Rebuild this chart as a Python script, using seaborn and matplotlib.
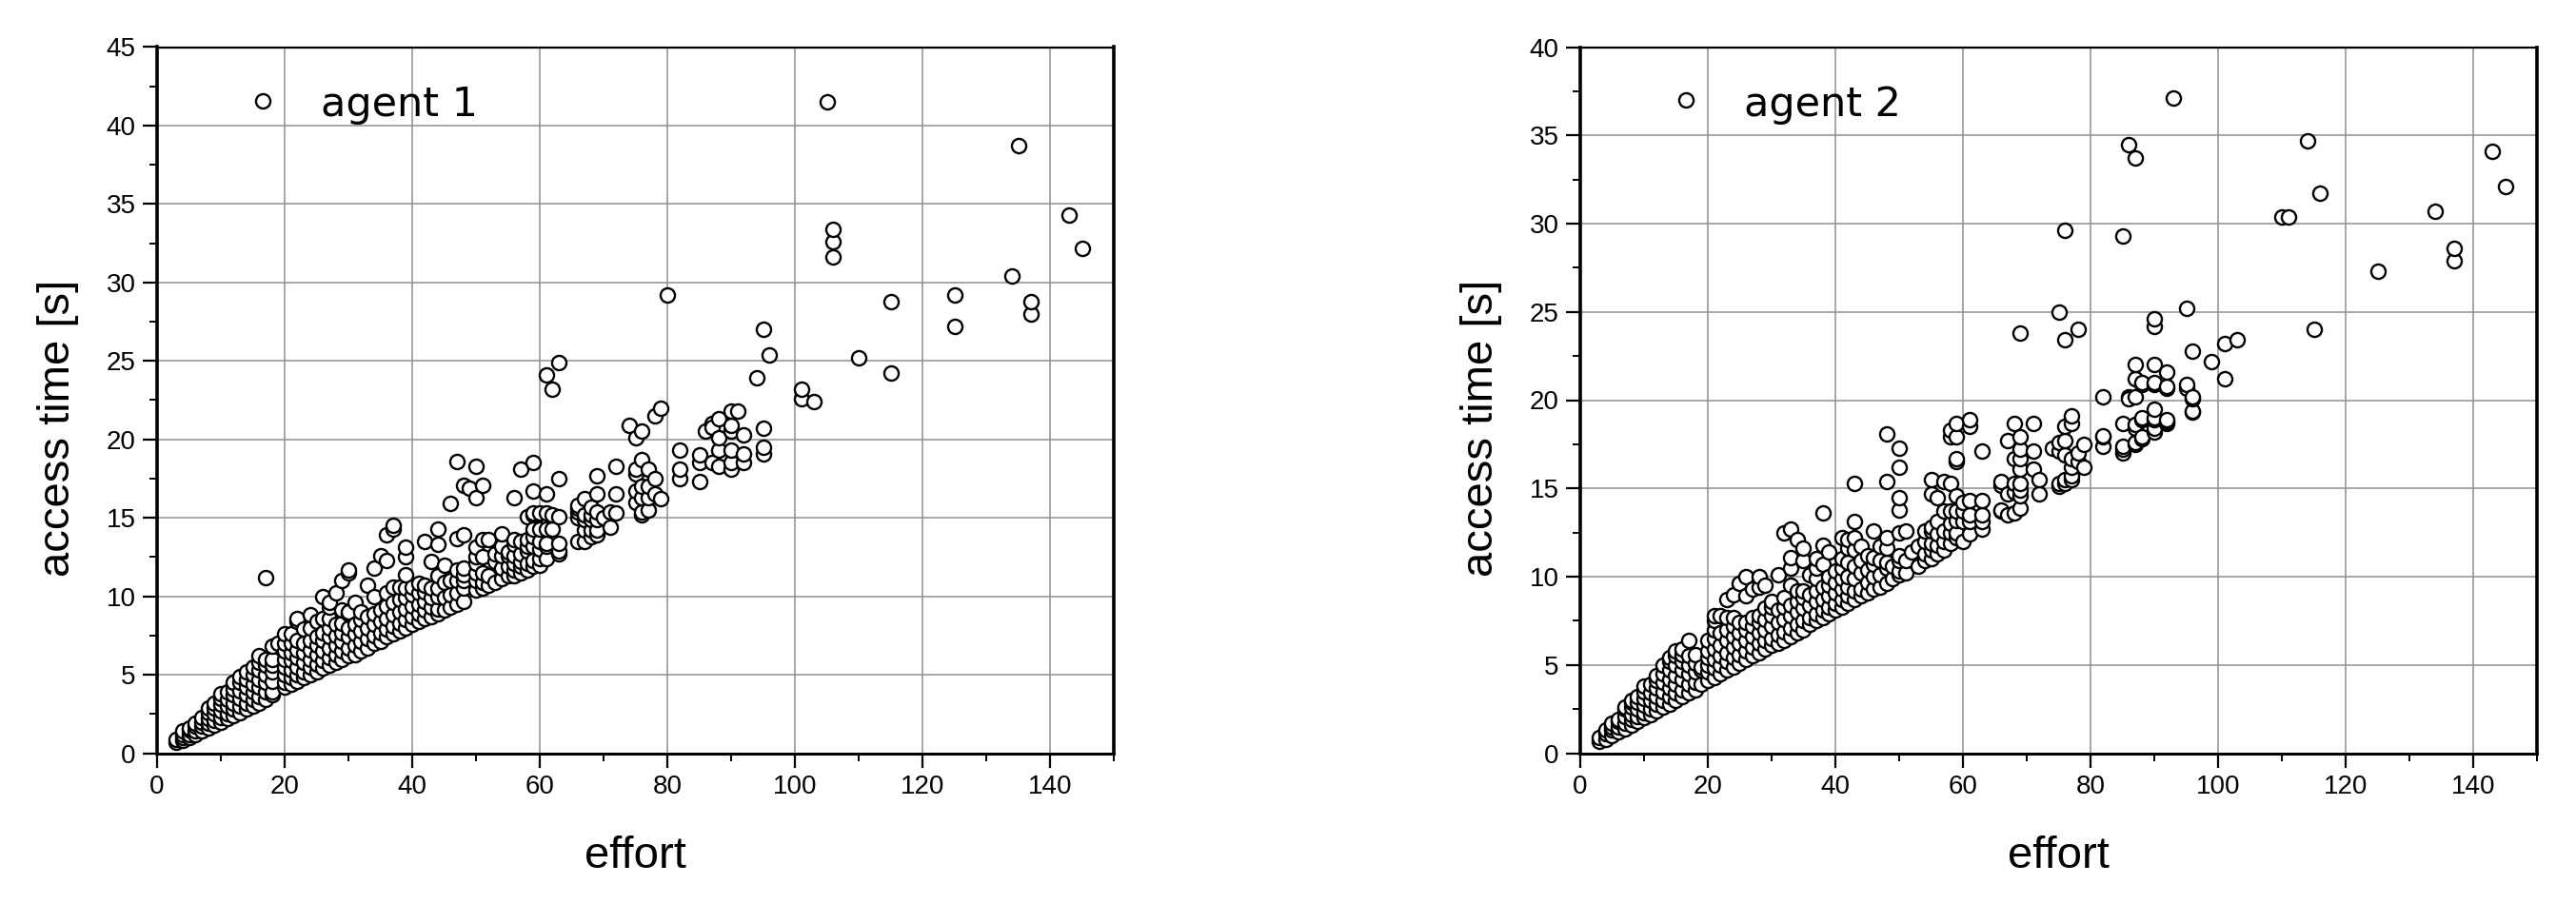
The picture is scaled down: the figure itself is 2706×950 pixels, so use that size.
import pandas as pd
import matplotlib
matplotlib.use('Agg')
import matplotlib.pyplot as plt
import seaborn as sns
from matplotlib.ticker import MultipleLocator

# effort values and the access times seen at each of them
effort_1 = [3, 4, 5, 6, 7, 8, 9, 10, 11, 12, 13, 14, 15, 16, 16.5, 17, 18, 19, 20, 21, 22, 23, 24, 25, 26, 27, 28, 29, 30,
            31, 32, 33, 34, 35, 36, 37, 38, 39, 40, 41, 42, 43, 44, 45, 46, 47, 48, 49, 50, 51, 52, 53, 54, 55, 56, 57,
            58, 59, 60, 61, 62, 63, 66, 67, 68, 69, 70, 71, 72, 74, 75, 76, 77, 78, 79, 80, 82, 85, 86, 87, 88, 90, 91,
            92, 94, 95, 96, 101, 103, 105, 106, 110, 115, 125, 134, 135, 137, 143, 145]
time_1 = [
    [0.7, 0.9], [0.8, 1.0, 1.2, 1.4], [1.0, 1.2, 1.5, 1.6], [1.2, 1.4, 1.7, 1.9], [1.4, 1.7, 2.0, 2.3],
    [1.6, 1.9, 2.2, 2.6, 2.9], [1.8, 2.1, 2.5, 2.9, 3.2], [2.0, 2.3, 2.7, 3.1, 3.5, 3.8], [2.2, 2.5, 3.0, 3.4, 3.9],
    [2.4, 2.8, 3.2, 3.7, 4.1, 4.5], [2.6, 3.0, 3.5, 4.0, 4.5, 4.9], [2.8, 3.2, 3.7, 4.2, 4.7, 5.2],
    [3.0, 3.4, 3.9, 4.4, 5.0, 5.5], [3.2, 3.6, 4.2, 4.7, 5.3, 5.8, 6.2], [41.6],
    [3.4, 3.9, 4.5, 5.0, 5.6, 6.0, 11.2], [3.7, 3.9, 4.6, 5.2, 5.6, 6.0, 6.8], [7.0],
    [4.2, 4.5, 5.0, 5.5, 6.0, 6.5, 7.0, 7.6], [4.4, 4.8, 5.3, 5.9, 6.4, 7.0, 7.6], [4.6, 5.0, 5.5, 6.1, 6.6, 7.2, 8.4, 8.6],
    [4.8, 5.2, 5.8, 6.4, 7.0, 7.9], [5.0, 5.5, 6.0, 6.6, 7.2, 8.0, 8.8], [5.2, 5.7, 6.3, 6.9, 7.4, 8.4],
    [5.4, 5.9, 6.5, 7.2, 7.7, 8.6, 10.0], [5.6, 6.1, 6.7, 7.4, 8.0, 8.6, 9.3, 9.6], [5.8, 6.3, 6.9, 7.5, 8.2, 10.2],
    [6.0, 6.5, 7.1, 7.7, 8.3, 9.1, 11.0], [6.2, 6.7, 7.4, 8.0, 8.9, 9.0, 11.5, 11.7], [6.3, 6.9, 7.6, 8.2, 9.6],
    [6.5, 7.1, 7.8, 8.5, 9.0], [6.7, 7.3, 8.0, 8.7, 10.7], [7.0, 7.5, 8.2, 8.9, 10.0, 11.8], [7.1, 7.7, 8.4, 9.1, 12.6],
    [7.4, 7.9, 8.6, 9.4, 10.2, 12.3, 13.9], [7.6, 8.1, 8.8, 9.6, 10.6, 14.3, 14.5], [7.8, 8.3, 9.0, 9.8, 10.6],
    [8.0, 8.5, 9.2, 9.9, 10.5, 11.4, 12.5, 13.1], [8.2, 8.7, 9.4, 10.1, 10.6], [8.4, 8.9, 9.5, 10.2, 10.8],
    [8.6, 9.1, 9.7, 10.3, 10.7, 13.5], [8.7, 9.3, 9.9, 10.5, 12.2], [8.9, 9.2, 10.0, 10.5, 11.3, 13.3, 14.3],
    [9.1, 9.9, 10.9, 12.0], [9.3, 10.1, 11.0, 15.9], [9.5, 10.2, 11.0, 11.7, 13.7, 18.6], [9.7, 10.5, 11.0, 11.4, 11.8, 13.9, 17.1],
    [16.9], [10.4, 11.0, 11.5, 12.1, 12.5, 13.1, 16.3, 18.3], [10.5, 10.9, 11.5, 12.5, 13.6, 17.1], [10.7, 11.3, 13.6],
    [10.9, 12.2, 12.7], [11.1, 11.8, 12.6, 13.2, 14.0], [11.3, 11.9, 12.6, 12.8], [11.3, 11.7, 12.1, 12.6, 13.3, 13.6, 16.3],
    [11.5, 11.9, 12.2, 12.7, 13.5, 18.1], [11.7, 12.1, 12.9, 13.2, 13.6, 15.1],
    [11.9, 12.3, 13.2, 13.8, 14.3, 15.2, 15.3, 16.7, 18.5], [12.0, 12.4, 13.0, 13.5, 14.3, 15.3],
    [12.4, 13.2, 13.4, 14.3, 15.3, 16.5, 24.1], [14.3, 15.2, 23.2], [12.7, 12.9, 13.4, 15.1, 17.5, 24.9],
    [13.5, 15.0, 15.4, 15.6, 15.8], [13.5, 14.2, 14.9, 15.2, 16.2], [13.8, 14.2, 14.9, 15.2, 15.7],
    [13.9, 14.2, 14.9, 15.4, 16.5, 17.7], [15.0], [14.4, 15.4], [15.3, 16.5, 18.3], [20.9],
    [16.0, 16.7, 17.8, 18.1, 20.1], [15.2, 15.4, 16.3, 17.0, 18.7, 20.5], [15.5, 16.3, 17.0, 18.1], [16.5, 17.5, 21.5],
    [16.2, 22.0], [29.2], [17.5, 18.1, 19.3], [17.3, 18.5, 19.0], [20.5], [18.5, 21.0, 20.8], [18.3, 19.3, 20.1, 21.3],
    [18.1, 18.5, 19.3, 20.5, 20.9, 21.8], [21.8], [18.5, 19.1, 20.3], [23.9], [19.1, 19.5, 20.7, 27.0], [25.4],
    [22.6, 23.2], [22.4], [41.5], [31.6, 32.6, 33.4], [25.2], [24.2, 28.8], [27.2, 29.2], [30.4], [38.7], [28.0, 28.8],
    [34.3], [32.2],
]

effort_2 = [3, 4, 5, 6, 7, 8, 9, 10, 11, 12, 13, 14, 15, 16, 16.5, 17, 18, 19, 20, 21, 22, 23, 24, 25, 26, 27, 28, 29, 30,
            31, 32, 33, 34, 35, 36, 37, 38, 39, 40, 41, 42, 43, 44, 45, 46, 47, 48, 49, 50, 51, 52, 53, 54, 55, 56, 57,
            58, 59, 60, 61, 63, 66, 67, 68, 69, 71, 72, 74, 75, 76, 77, 78, 79, 82, 85, 86, 87, 88, 90, 92, 93, 95, 96,
            99, 101, 103, 110, 111, 114, 115, 116, 125, 134, 137, 143, 145]
time_2 = [
    [0.7, 0.9], [0.8, 1.1, 1.3], [1.0, 1.3, 1.5, 1.7], [1.2, 1.5, 1.8, 1.9], [1.4, 1.7, 2.1, 2.5, 2.6],
    [1.6, 1.9, 2.2, 2.6, 2.9, 3.0], [1.8, 2.1, 2.5, 2.9, 3.2], [2.0, 2.3, 2.7, 3.1, 3.5, 3.8],
    [2.2, 2.5, 3.0, 3.4, 3.9], [2.4, 2.8, 3.2, 3.7, 4.1, 4.4], [2.6, 3.0, 3.5, 4.0, 4.5, 5.0],
    [2.8, 3.2, 3.7, 4.2, 4.7, 5.2, 5.4], [3.0, 3.4, 3.9, 4.4, 5.0, 5.5, 5.8], [3.2, 3.6, 4.2, 4.7, 5.2, 5.6, 5.9], [37.0],
    [3.4, 3.9, 4.5, 5.0, 5.5, 6.4], [3.6, 4.0, 4.6, 5.1, 5.6], [3.9, 4.7, 4.9], [4.1, 4.6, 5.0, 5.4, 5.8, 6.4],
    [4.3, 4.8, 5.3, 5.9, 6.5, 7.0, 7.5, 7.8], [4.5, 5.0, 5.5, 6.1, 6.8, 7.8], [4.7, 5.2, 5.7, 6.4, 7.0, 7.7, 8.7],
    [4.9, 5.4, 6.0, 6.6, 7.2, 7.7, 9.0], [5.1, 5.6, 6.2, 6.8, 7.4, 9.6], [5.3, 5.8, 6.4, 7.0, 7.4, 8.9, 10.0],
    [5.5, 6.0, 6.6, 7.2, 7.7, 9.3], [5.7, 6.2, 6.8, 7.4, 7.8, 9.4, 10.0], [5.9, 6.4, 7.0, 7.6, 8.2, 9.5],
    [6.1, 6.5, 7.2, 7.8, 8.3, 8.6], [6.2, 6.7, 7.4, 8.1, 10.1], [6.4, 6.9, 7.6, 8.3, 8.8, 12.5],
    [6.6, 7.1, 7.8, 8.4, 9.5, 10.5, 11.1, 12.7], [6.8, 7.3, 8.0, 8.6, 9.2, 12.1], [7.0, 7.5, 8.2, 8.8, 9.2, 10.9, 11.6],
    [7.3, 7.7, 8.4, 9.0, 10.1], [7.5, 7.9, 8.6, 9.2, 9.9, 10.5, 11.0], [7.7, 8.1, 8.7, 9.4, 10.7, 11.8, 13.6],
    [7.9, 8.3, 8.9, 9.5, 10.0, 11.4], [8.1, 8.5, 9.1, 9.7, 10.3], [8.3, 8.7, 9.3, 9.9, 10.5, 11.0, 12.2],
    [8.5, 8.9, 9.4, 10.0, 10.8, 11.6, 12.1], [8.7, 9.2, 9.9, 10.6, 11.5, 12.2, 13.1, 15.3], [8.9, 9.3, 10.2, 10.9, 11.7],
    [9.1, 9.7, 10.4, 11.2], [9.3, 10.0, 10.7, 11.1, 12.6], [9.4, 10.1, 10.9, 11.7], [9.6, 10.5, 10.8, 11.6, 12.2, 15.4, 18.1],
    [9.9, 10.6], [10.1, 10.3, 10.9, 11.2, 12.5, 13.8, 14.5, 16.2, 17.3], [10.2, 10.9, 12.6], [11.4], [10.6, 11.7],
    [10.9, 11.3, 12.0, 12.6], [11.0, 11.5, 11.9, 12.6, 12.8, 14.7, 15.5], [11.3, 11.8, 12.4, 13.1, 14.5],
    [11.5, 12.0, 12.6, 13.7, 15.4], [11.9, 12.5, 13.0, 13.7, 15.3, 17.9, 18.3], [12.2, 12.5, 13.2, 13.7, 14.6, 16.5, 16.7, 17.9, 18.7],
    [12.0, 13.1, 13.7, 14.2], [12.4, 13.1, 13.5, 14.3, 18.5, 18.9], [12.7, 13.1, 13.5, 14.3, 17.1],
    [13.7, 13.8, 15.2, 15.4], [13.5, 14.7, 17.7], [13.6, 14.8, 15.3, 16.7, 18.7], [13.9, 14.6, 14.9, 15.3, 16.1, 16.7, 17.2, 17.9, 23.8],
    [16.1, 17.1, 18.7], [14.7, 15.5], [17.3], [15.1, 15.3, 17.1, 17.6, 25.0], [15.3, 15.5, 16.9, 17.7, 18.5, 23.4, 29.6],
    [15.5, 15.7, 16.2, 16.7, 18.7, 19.1], [16.5, 17.0, 24.0], [16.2, 17.5], [17.4, 17.9, 18.0, 20.2],
    [17.0, 17.2, 17.4, 18.7, 29.3], [20.2, 20.1, 34.5], [17.5, 17.6, 18.4, 18.6, 20.2, 21.2, 22.0, 33.7],
    [17.8, 17.9, 18.9, 19.0, 20.9, 21.0], [18.2, 18.4, 18.9, 19.0, 19.5, 20.9, 21.0, 22.0, 24.2, 24.6],
    [18.7, 18.8, 18.9, 20.7, 20.8, 21.6], [37.1], [20.7, 20.9, 25.2], [19.3, 19.4, 20.1, 20.2, 22.8], [22.2], [21.2, 23.2],
    [23.4], [30.4], [30.4], [34.7], [24.0], [31.7], [27.3], [30.7], [27.9, 28.6], [34.1], [32.1],
]

x_ticks = [0, 20, 40, 60, 80, 100, 120, 140]
y_ticks_1 = [0, 5, 10, 15, 20, 25, 30, 35, 40, 45]
y_ticks_2 = [0, 5, 10, 15, 20, 25, 30, 35, 40]

W, H = 2706, 950


def to_frame(effort, times):
    rows = [(e, t) for e, ts in zip(effort, times) for t in ts]
    return pd.DataFrame(rows, columns=['effort', 'access time']).sort_values('effort', kind='stable')


def draw_panel(left, right, effort, times, y_ticks, label, label_y):
    ax = fig.add_axes([left / W, 1 - 791.5 / H, (right - left) / W, 742 / H])
    sns.scatterplot(data=to_frame(effort, times), x='effort', y='access time', ax=ax, s=118, color='white',
                    edgecolor='black', linewidth=1.7, zorder=3, clip_on=False)
    ax.set_xlim(0, 150)
    ax.set_ylim(y_ticks[0], y_ticks[-1])
    ax.set_xticks(x_ticks)
    ax.set_yticks(y_ticks)
    ax.xaxis.set_minor_locator(MultipleLocator(10))
    ax.yaxis.set_minor_locator(MultipleLocator(2.5))
    ax.grid(True, which='major', color='#8f8f8f', linewidth=1.1, zorder=0)
    ax.set_axisbelow(True)
    ax.tick_params(axis='both', which='major', labelsize=20, length=11, width=1.6, color='black',
                   labelcolor='black', bottom=True, left=True, pad=5)
    ax.tick_params(axis='both', which='minor', length=6, width=1.4, color='black', bottom=True, left=True)
    ax.spines['left'].set_linewidth(2.6)
    ax.spines['bottom'].set_linewidth(2.2)
    ax.spines['right'].set_linewidth(2.6)
    ax.spines['top'].set_linewidth(1.6)
    for spine in ax.spines.values():
        spine.set_color('black')
    ax.set_xlabel('effort', fontsize=34, color='black')
    ax.set_ylabel('access time [s]', fontsize=34, color='black')
    ax.xaxis.set_label_coords(0.5, -0.116)
    ax.yaxis.set_label_coords(-0.082, 0.46)
    ax.text(25.7, label_y, label, fontsize=31, family='DejaVu Sans', color='black', va='baseline', ha='left', zorder=4)
    return ax


sns.set_theme(style='white')
plt.rcParams['font.family'] = ['Liberation Sans', 'DejaVu Sans']

fig = plt.figure(figsize=(W / 100, H / 100), dpi=100)
draw_panel(165, 1170, effort_1, time_1, y_ticks_1, 'agent 1', 40.6)
draw_panel(1660, 2665, effort_2, time_2, y_ticks_2, 'agent 2', 36.1)

fig.savefig('out.png', dpi=100)
